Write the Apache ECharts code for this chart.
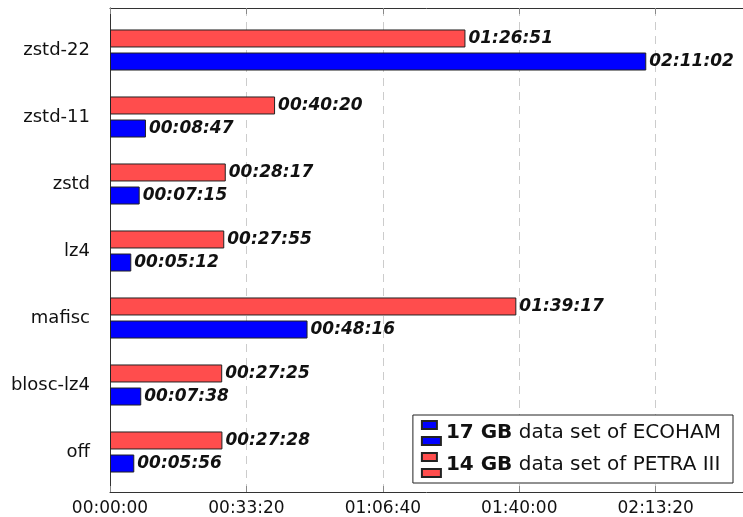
<!DOCTYPE html>
<html>
<head>
<meta charset="utf-8">
<script src="https://cdn.jsdelivr.net/npm/echarts@6/dist/echarts.min.js"></script>
<style>
  html, body { margin: 0; padding: 0; background: #fff; }
  #chart { width: 743px; height: 517px; }
</style>
</head>
<body>
<div id="chart"></div>
<script>
// categories, bottom to top
var categories = ['off', 'blosc-lz4', 'mafisc', 'lz4', 'zstd', 'zstd-11', 'zstd-22']
// run times in seconds
var ecoham = [356, 458, 2896, 312, 435, 527, 7862]
var petra = [1648, 1645, 5957, 1675, 1697, 2420, 5211]
var seriesNames = ['17 GB data set of ECOHAM', '14 GB data set of PETRA III']
var tickStep = 2000

var font = 'DejaVu Sans'

function hms (sec) {
  var h = Math.floor(sec / 3600)
  var m = Math.floor((sec % 3600) / 60)
  var s = Math.round(sec % 60)
  var pad = function (n) { return (n < 10 ? '0' : '') + n }
  return pad(h) + ':' + pad(m) + ':' + pad(s)
}

var xMax = 9280

var barLabel = {
  show: true,
  position: 'right',
  distance: 3,
  fontFamily: font,
  fontStyle: 'italic',
  fontWeight: 'bold',
  fontSize: 17,
  color: '#111',
  formatter: function (p) { return hms(p.value) }
}

var option = {
  animation: false,
  backgroundColor: '#fff',
  grid: [
    // outer frame
    { left: 110, right: -2, top: 8, bottom: 24 },
    // bars
    { left: 110, right: -2, top: 16.5, bottom: 31.5 }
  ],
  legend: {
    orient: 'vertical',
    right: 10,
    bottom: 34,
    padding: [5, 12, 5, 8],
    itemGap: 6,
    itemWidth: 19,
    itemHeight: 24,
    itemTextGap: 9,
    borderColor: '#222',
    borderWidth: 1,
    backgroundColor: '#fff',
    icon: 'path://M0,0L15,0L15,8L0,8Z M0,16L19,16L19,24L0,24Z',
    data: seriesNames,
    formatter: function (name) {
      var w = name.split(' ')
      return '{b|' + w[0] + ' ' + w[1] + '} ' + w.slice(2).join(' ')
    },
    textStyle: {
      fontFamily: font,
      fontSize: 20,
      color: '#111',
      rich: {
        b: { fontFamily: font, fontSize: 20, fontWeight: 'bold', color: '#111' }
      }
    }
  },
  xAxis: [
    {
      gridIndex: 0,
      type: 'value',
      position: 'bottom',
      min: 0,
      max: xMax,
      interval: tickStep,
      axisLine: { show: true, lineStyle: { color: '#333' } },
      axisTick: { show: true, inside: true, length: 6, lineStyle: { color: '#888' } },
      axisLabel: {
        margin: 8,
        fontFamily: font,
        fontSize: 17,
        color: '#111',
        showMaxLabel: false,
        formatter: function (v) { return v % tickStep === 0 ? hms(v) : '' }
      },
      splitLine: { show: true, lineStyle: { color: '#ccc', type: [8, 6] } }
    },
    {
      gridIndex: 0,
      type: 'value',
      position: 'top',
      min: 0,
      max: xMax,
      interval: tickStep,
      axisLine: { show: true, lineStyle: { color: '#333' } },
      axisTick: { show: true, inside: true, length: 6, lineStyle: { color: '#888' } },
      axisLabel: { show: false },
      splitLine: { show: false }
    },
    {
      gridIndex: 1,
      type: 'value',
      min: 0,
      max: xMax,
      show: false
    }
  ],
  yAxis: [
    {
      gridIndex: 0,
      type: 'value',
      axisLine: { show: true, lineStyle: { color: '#333' } },
      axisTick: { show: false },
      axisLabel: { show: false },
      splitLine: { show: false }
    },
    {
      gridIndex: 1,
      type: 'category',
      data: categories,
      axisLine: { show: false },
      axisTick: { show: false },
      axisLabel: { margin: 20, fontFamily: font, fontSize: 18, color: '#111' }
    }
  ],
  // first series sits on top inside each category
  series: [
    {
      name: seriesNames[1],
      type: 'bar',
      xAxisIndex: 2,
      yAxisIndex: 1,
      barWidth: 18,
      barGap: '28%',
      itemStyle: { color: '#ff4d4d', borderColor: '#222', borderWidth: 1 },
      label: barLabel,
      data: petra
    },
    {
      name: seriesNames[0],
      type: 'bar',
      xAxisIndex: 2,
      yAxisIndex: 1,
      barWidth: 18,
      barGap: '28%',
      itemStyle: { color: '#0000ff', borderColor: '#222', borderWidth: 1 },
      label: barLabel,
      data: ecoham
    }
  ]
}

var chart = echarts.init(document.getElementById('chart'))
chart.setOption(option)
</script>
</body>
</html>
